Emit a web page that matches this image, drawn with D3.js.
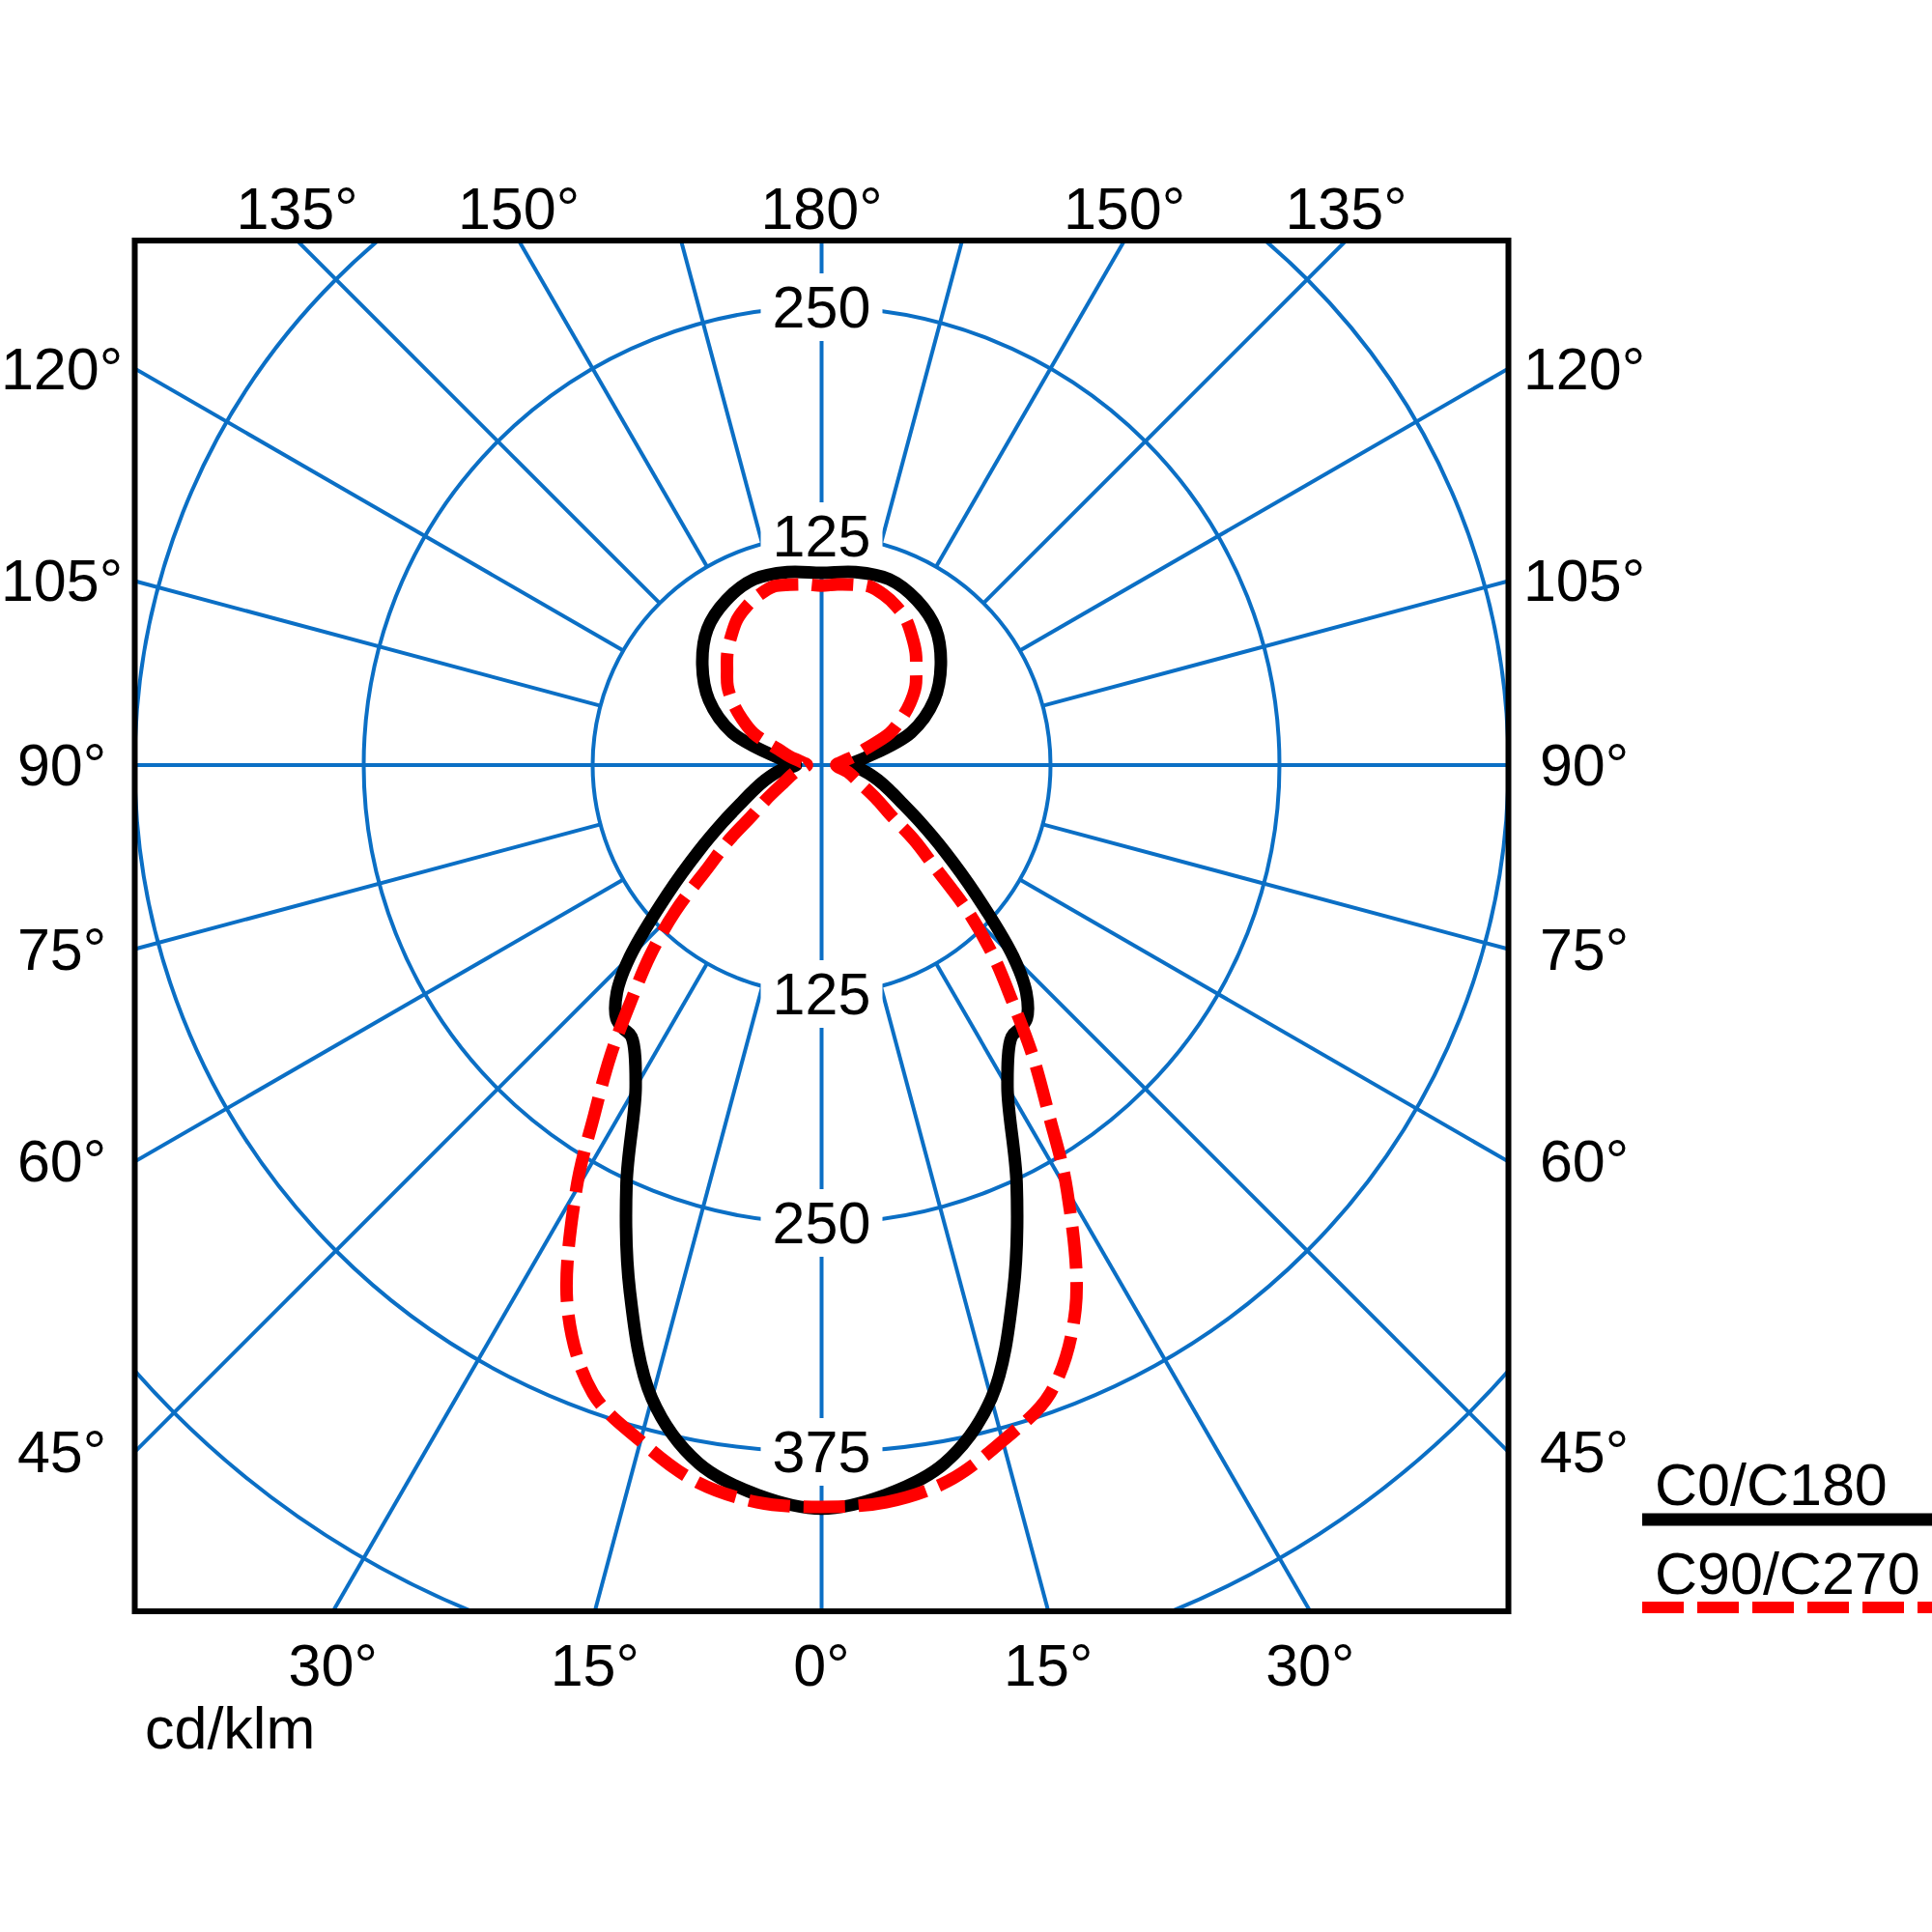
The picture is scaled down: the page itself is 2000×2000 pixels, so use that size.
<!DOCTYPE html>
<html>
<head>
<meta charset="utf-8">
<script src="https://cdn.jsdelivr.net/npm/d3@7"></script>
<style>
body { margin: 0; background: #fff; }
text { font-family: "Liberation Sans", Arial, sans-serif; font-size: 61px; fill: #000; }
</style>
</head>
<body>
<div id="chart"></div>
<script>
// gamma angles in degrees (0 = straight down, 180 = straight up), intensity in cd/klm
var c0Angles  = [0, 5, 10, 15, 20, 25, 30, 35, 37, 39, 42, 45, 50, 55, 60, 65, 70, 75, 80, 85, 90, 95, 100, 110, 120, 130, 140, 150, 160, 170, 180];
var c0Values  = [406, 400, 387, 358, 306, 252, 203, 181, 180, 178, 167, 148, 110, 82, 62, 48, 39, 32, 26, 20, 14, 18, 25, 52, 71, 85, 97, 104, 108, 107, 105];
var c90Angles = [0, 5, 10, 15, 20, 25, 30, 33, 36, 39, 42, 45, 48, 51, 54, 58, 65, 75, 90, 100, 105, 110, 115, 120, 125, 130, 135, 140, 145, 150, 155, 160, 165, 170, 175, 180];
var c90Values = [405, 404, 397, 382, 365, 328, 268, 228, 196, 165, 140, 113, 83, 65, 47, 36, 23, 15, 8, 12, 18, 25, 41, 50, 59, 67, 73, 80, 86, 92, 96, 99, 101, 100, 99, 98];

var rings = [125, 250, 375, 500];
var ringLabelsUp = [125, 250];
var ringLabelsDown = [125, 250, 375];
// signed angles: negative = left half of the diagram
var topTicks = [-135, -150, 180, 150, 135];
var bottomTicks = [-30, -15, 0, 15, 30];
var leftTicks = [-45, -60, -75, -90, -105, -120];
var rightTicks = [45, 60, 75, 90, 105, 120];
var legendNames = ["C0/C180", "C90/C270"];

var W = 2000, H = 2000;
var cx = 850.5, cy = 792;
var box = { x0: 139.5, x1: 1561.5, y0: 249, y1: 1668 };
var blue = "#0b6fc5";

var r = d3.scaleLinear().domain([0, 125]).range([0, 237]);

var svg = d3.select("#chart").append("svg").attr("width", W).attr("height", H);

svg.append("clipPath").attr("id", "boxclip")
    .append("rect").attr("x", box.x0).attr("y", box.y0)
    .attr("width", box.x1 - box.x0).attr("height", box.y1 - box.y0);

// clip on the outer group, polar transform on the inner one
var grid = svg.append("g").attr("clip-path", "url(#boxclip)")
    .append("g").attr("transform", "translate(" + cx + "," + cy + ")");

// rings
grid.selectAll("circle").data(rings).enter().append("circle")
    .attr("r", function(d) { return r(d); })
    .attr("fill", "none").attr("stroke", blue).attr("stroke-width", 4);

// spokes every 15 degrees, only the axes reach the centre
var spokes = d3.range(0, 360, 15);
grid.selectAll("line").data(spokes).enter().append("line")
    .attr("x1", function(d) { return (d % 90 === 0 ? 0 : r(125)) * Math.sin(d * Math.PI / 180); })
    .attr("y1", function(d) { return (d % 90 === 0 ? 0 : r(125)) * Math.cos(d * Math.PI / 180); })
    .attr("x2", function(d) { return 1400 * Math.sin(d * Math.PI / 180); })
    .attr("y2", function(d) { return 1400 * Math.cos(d * Math.PI / 180); })
    .attr("stroke", blue).attr("stroke-width", 4);

// frame
svg.append("rect").attr("x", box.x0).attr("y", box.y0)
    .attr("width", box.x1 - box.x0).attr("height", box.y1 - box.y0)
    .attr("fill", "none").attr("stroke", "#000").attr("stroke-width", 6);

// value labels along the vertical axis, on white patches
var ringLabs = ringLabelsUp.map(function(v) { return { v: v, y: cy - r(v) }; })
    .concat(ringLabelsDown.map(function(v) { return { v: v, y: cy + r(v) }; }));
var rl = svg.selectAll("g.ringlab").data(ringLabs).enter().append("g").attr("class", "ringlab");
rl.append("rect").attr("x", cx - 63).attr("y", function(d) { return d.y - 35; })
    .attr("width", 126).attr("height", 70).attr("fill", "#fff");
rl.append("text").attr("x", cx).attr("y", function(d) { return d.y + 21; })
    .attr("text-anchor", "middle").text(function(d) { return d.v; });

// where a spoke meets the frame
function hit(a) {
    var t = a * Math.PI / 180;
    var dx = Math.sin(t), dy = Math.cos(t);
    var ts = [];
    if (dx > 1e-9) ts.push((box.x1 - cx) / dx);
    if (dx < -1e-9) ts.push((box.x0 - cx) / dx);
    if (dy > 1e-9) ts.push((box.y1 - cy) / dy);
    if (dy < -1e-9) ts.push((box.y0 - cy) / dy);
    var k = d3.min(ts);
    return [cx + k * dx, cy + k * dy];
}
function deg(a) { return Math.abs(a) + "°"; }

svg.selectAll("text.top").data(topTicks).enter().append("text").attr("class", "top")
    .attr("x", function(d) { return hit(d)[0]; }).attr("y", box.y0 - 12)
    .attr("text-anchor", "middle").text(deg);
svg.selectAll("text.bot").data(bottomTicks).enter().append("text").attr("class", "bot")
    .attr("x", function(d) { return hit(d)[0]; }).attr("y", box.y1 + 77)
    .attr("text-anchor", "middle").text(deg);
svg.selectAll("text.lft").data(leftTicks).enter().append("text").attr("class", "lft")
    .attr("x", 64).attr("y", function(d) { return hit(d)[1] + 21; })
    .attr("text-anchor", "middle").text(deg);
svg.selectAll("text.rgt").data(rightTicks).enter().append("text").attr("class", "rgt")
    .attr("x", 1640).attr("y", function(d) { return hit(d)[1] + 21; })
    .attr("text-anchor", "middle").text(deg);

// curves: right half then mirrored left half
function outline(angles, values) {
    var pts = [];
    angles.forEach(function(a, i) { pts.push({ a: Math.PI - a * Math.PI / 180, v: values[i] }); });
    for (var i = angles.length - 2; i > 0; i--)
        pts.push({ a: angles[i] * Math.PI / 180 - Math.PI, v: values[i] });
    return pts;
}
var radial = d3.lineRadial()
    .angle(function(d) { return d.a; })
    .radius(function(d) { return r(d.v); })
    .curve(d3.curveCatmullRomClosed.alpha(0.5));

var curves = svg.append("g").attr("transform", "translate(" + cx + "," + cy + ")");
curves.append("path").attr("d", radial(outline(c0Angles, c0Values)))
    .attr("fill", "none").attr("stroke", "#000").attr("stroke-width", 13)
    .attr("stroke-linejoin", "round");
curves.append("path").attr("d", radial(outline(c90Angles, c90Values)))
    .attr("fill", "none").attr("stroke", "#ff0000").attr("stroke-width", 13)
    .attr("stroke-dasharray", "43,14");

// legend
svg.append("text").attr("x", 1713).attr("y", 1558).text(legendNames[0]);
svg.append("line").attr("x1", 1700).attr("x2", 2000).attr("y1", 1573).attr("y2", 1573)
    .attr("stroke", "#000").attr("stroke-width", 13);
svg.append("text").attr("x", 1713).attr("y", 1650).text(legendNames[1]);
svg.append("line").attr("x1", 1700).attr("x2", 2000).attr("y1", 1664).attr("y2", 1664)
    .attr("stroke", "#ff0000").attr("stroke-width", 12).attr("stroke-dasharray", "43,14");

// unit
svg.append("text").attr("x", 150).attr("y", 1810).text("cd/klm");
svg.append("rect").attr("x", 140).attr("y", 1812).attr("width", 220).attr("height", 40).attr("fill", "#fff");
</script>
</body>
</html>
